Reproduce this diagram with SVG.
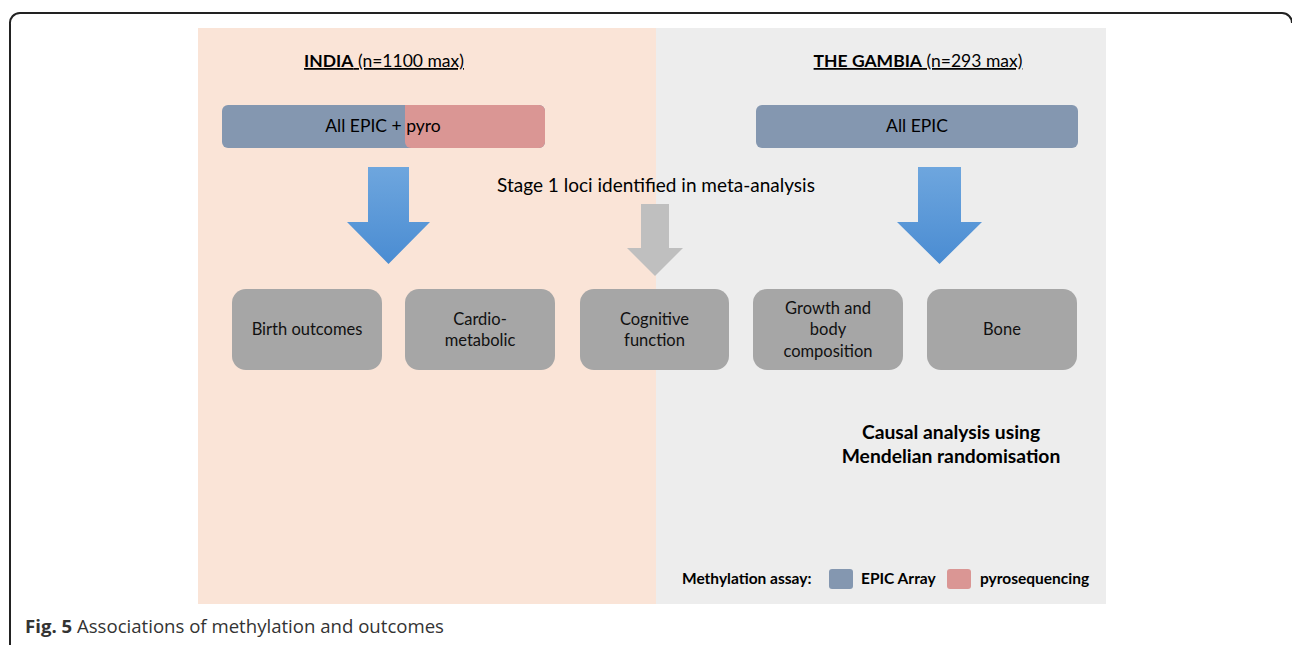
<svg xmlns="http://www.w3.org/2000/svg" width="1292" height="645" viewBox="0 0 1292 645">
<defs>
<style>
.t{font-family:Lato,"Liberation Sans",sans-serif;fill:#000}
.box{fill:#A6A6A6}
.bt{font-family:Lato,"Liberation Sans",sans-serif;font-size:16.5px;fill:#111;text-anchor:middle}
.lg{font-family:Lato,"Liberation Sans",sans-serif;font-size:15.5px;font-weight:bold;fill:#000}
</style>
<linearGradient id="blueg" x1="0" y1="0" x2="0" y2="1">
<stop offset="0" stop-color="#6EA6DE"/>
<stop offset="1" stop-color="#4A8CD2"/>
</linearGradient>
</defs>
<rect x="0" y="0" width="1292" height="645" fill="#fff"/>
<path d="M10,660 V24 A10,10 0 0 1 20,13 H1282 A10,10 0 0 1 1292,23" fill="none" stroke="#222" stroke-width="2"/>
<rect x="198" y="28" width="458" height="576" fill="#FAE4D7"/>
<rect x="656" y="28" width="450" height="576" fill="#EDEDED"/>

<g id="india-title">
<text class="t" x="384" y="67" text-anchor="middle" font-size="17.5" text-decoration="underline"><tspan font-weight="bold">INDIA</tspan> (n=1100 max)</text>
</g>
<g id="gambia-title">
<text class="t" x="918" y="67" text-anchor="middle" font-size="17.5" text-decoration="underline"><tspan font-weight="bold">THE GAMBIA</tspan> (n=293 max)</text>
</g>

<g id="india-bar">
<rect x="222" y="105" width="323" height="43" rx="6" fill="#8497B0"/>
<path d="M405,105 H539 A6,6 0 0 1 545,111 V142 A6,6 0 0 1 539,148 H411 A6,6 0 0 1 405,142 Z" fill="#DA9694"/>
<text class="t" x="383" y="132" text-anchor="middle" font-size="17.5">All EPIC + pyro</text>
</g>
<g id="gambia-bar">
<rect x="756" y="105" width="322" height="43" rx="6" fill="#8497B0"/>
<text class="t" x="917" y="132" text-anchor="middle" font-size="17.5">All EPIC</text>
</g>

<g id="connectors">
<polygon points="368,167 409,167 409,222 430,222 388.5,264 347,222 368,222" fill="url(#blueg)"/>
<polygon points="918,167 961,167 961,222 982,222 939.5,264 897,222 918,222" fill="url(#blueg)"/>
<polygon points="641,204 669,204 669,248 683,248 655,276 627,248 641,248" fill="#BFBFBF"/>
</g>

<g id="stage1-label">
<text class="t" x="656" y="192" text-anchor="middle" font-size="19">Stage 1 loci identified in meta-analysis</text>
</g>

<g id="birth-outcomes">
<rect class="box" x="232" y="289" width="150" height="81" rx="14"/>
<text class="bt" x="307" y="335">Birth outcomes</text>
</g>
<g id="cardio-metabolic">
<rect class="box" x="405" y="289" width="150" height="81" rx="14"/>
<text class="bt" x="480" y="325">Cardio-</text>
<text class="bt" x="480" y="346">metabolic</text>
</g>
<g id="cognitive-function">
<rect class="box" x="580" y="289" width="149" height="81" rx="14"/>
<text class="bt" x="654.5" y="325">Cognitive</text>
<text class="bt" x="654.5" y="346">function</text>
</g>
<g id="growth-body">
<rect class="box" x="753" y="289" width="150" height="81" rx="14"/>
<text class="bt" x="828" y="314">Growth and</text>
<text class="bt" x="828" y="335">body</text>
<text class="bt" x="828" y="357">composition</text>
</g>
<g id="bone">
<rect class="box" x="927" y="289" width="150" height="81" rx="14"/>
<text class="bt" x="1002" y="335">Bone</text>
</g>

<g id="causal-label">
<text class="t" x="951" y="439" text-anchor="middle" font-size="19.3" font-weight="bold">Causal analysis using</text>
<text class="t" x="951" y="463" text-anchor="middle" font-size="19.3" font-weight="bold">Mendelian randomisation</text>
</g>

<g id="legend">
<text class="lg" x="682" y="584">Methylation assay:</text>
<rect x="829" y="569" width="24" height="20" rx="3" fill="#8497B0"/>
<text class="lg" x="861" y="584">EPIC Array</text>
<rect x="947" y="569" width="24" height="20" rx="3" fill="#DA9694"/>
<text class="lg" x="980" y="584">pyrosequencing</text>
</g>

<g id="caption">
<text x="25" y="633" font-family="'Open Sans',sans-serif" font-size="18.6" fill="#333"><tspan font-weight="bold">Fig. 5</tspan> Associations of methylation and outcomes</text>
</g>
</svg>
